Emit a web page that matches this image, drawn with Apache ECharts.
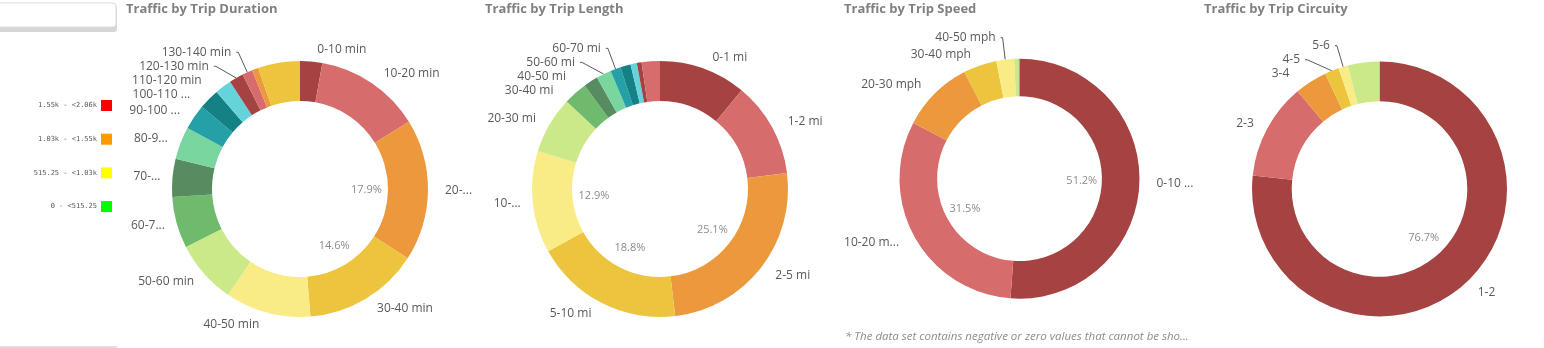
<!DOCTYPE html>
<html><head><meta charset="utf-8">
<script src="https://cdn.jsdelivr.net/npm/echarts@6/dist/echarts.min.js"></script>
<style>html,body{margin:0;padding:0;background:#fff}#c{width:1544px;height:348px}</style>
</head><body><div id="c"></div>
<script>
// ---------- DATA ----------
const palette = ['#a54343','#d76c6c','#ec983d','#ecc43d','#f9ec86','#cbe989','#70ba6e','#578b60','#79d69f','#26a0a7','#138185','#65d3da'];

const durationCategories = ['0-10 min','10-20 min','20-30 min','30-40 min','40-50 min','50-60 min','60-70 min','70-80 min','80-90 min','90-100 min','100-110 min','110-120 min','120-130 min','130-140 min','140-150 min','150+ min'];
const durationValues = [2.8,13.4,17.9,14.6,10.8,8.0,6.5,4.8,4.1,3.2,2.6,2.1,1.8,1.3,0.8,5.3];
const durationLabels = ['0-10 min','10-20 min','20-...','30-40 min','40-50 min','50-60 min','60-7...','70-...','80-9...','90-100 ...','100-110 ...','110-120 min','120-130 min','130-140 min','',''];

const lengthCategories = ['0-1 mi','1-2 mi','2-5 mi','5-10 mi','10-20 mi','20-30 mi','30-40 mi','40-50 mi','50-60 mi','60-70 mi','70-80 mi','80-90 mi','90-100 mi','100+ mi'];
const lengthValues = [11.0,12.0,25.1,18.8,12.9,7.2,3.0,1.8,1.9,1.3,1.3,0.8,0.6,2.3];
const lengthLabels = ['0-1 mi','1-2 mi','2-5 mi','5-10 mi','10-...','20-30 mi','30-40 mi','40-50 mi','50-60 mi','60-70 mi','','','',''];

const speedCategories = ['0-10 mph','10-20 mph','20-30 mph','30-40 mph','40-50 mph','50-60 mph','60+ mph'];
const speedValues = [51.2,31.5,9.7,4.5,2.4,0.6,0.1];
const speedLabels = ['0-10 ...','10-20 m...','20-30 mph','30-40 mph','40-50 mph','',''];

const circuityCategories = ['1-2','2-3','3-4','4-5','5-6','6+'];
const circuityValues = [76.7,12.2,4.1,1.8,1.2,4.0];
const circuityLabels = ['1-2','2-3','3-4','4-5','5-6',''];

const titles = ['Traffic by Trip Duration','Traffic by Trip Length','Traffic by Trip Speed','Traffic by Trip Circuity'];
const legendRanges = ['1.55k - <2.06k','1.03k - <1.55k','515.25 - <1.03k','0 - <515.25'];
const legendColors = ['#ff0000','#ff9900','#ffff00','#00ff00'];
const footnote = '* The data set contains negative or zero values that cannot be sho...';

// ---------- LAYOUT ----------
const charts = [
  {categories: durationCategories, values: durationValues, labels: durationLabels, center:[300,189], outer:128, inner:88, pctMin:14, leaders:['120-130 min','130-140 min'], titleX:126},
  {categories: lengthCategories, values: lengthValues, labels: lengthLabels, center:[660,189], outer:128, inner:88, pctMin:12.5, leaders:['50-60 mi','60-70 mi'], titleX:485},
  {categories: speedCategories, values: speedValues, labels: speedLabels, center:[1019.5,178.7], outer:120, inner:82.4, pctMin:20, leaders:['40-50 mph'], titleX:844},
  {categories: circuityCategories, values: circuityValues, labels: circuityLabels, center:[1379.5,189], outer:127.5, inner:87.8, pctMin:40, leaders:['4-5','5-6'], titleX:1204}
];
const FONT = 'Open Sans';

function buildSeries(cfg) {
  const data = cfg.categories.map((name, i) => {
    const txt = cfg.labels[i];
    const lead = txt !== '' && cfg.leaders.indexOf(name) >= 0;
    return {
      name: name, value: cfg.values[i],
      itemStyle: {color: palette[i % palette.length]},
      label: {show: txt !== '', formatter: txt},
      labelLine: lead ? {show: true, length: 22, length2: 2} : {show: false}
    };
  });
  const main = {
    type: 'pie', center: cfg.center, radius: [cfg.inner, cfg.outer],
    startAngle: 90, clockwise: true, avoidLabelOverlap: true, animation: false, silent: true,
    label: {position: 'outside', color: '#595959', fontSize: 12, fontFamily: FONT},
    labelLine: {length: 12, length2: 0, smooth: false, lineStyle: {color: '#595959', width: 1}},
    emphasis: {disabled: true},
    data: data
  };
  const pct = {
    type: 'pie', center: cfg.center, radius: [cfg.inner * 0.44, cfg.inner],
    startAngle: 90, clockwise: true, animation: false, silent: true,
    itemStyle: {color: 'rgba(0,0,0,0)'},
    label: {position: 'inside', color: '#8c8c8c', fontSize: 11, fontFamily: FONT,
      formatter: p => (p.percent >= cfg.pctMin ? p.percent.toFixed(1) + '%' : '')},
    labelLine: {show: false},
    emphasis: {disabled: true},
    data: cfg.categories.map((n, i) => ({name: n, value: cfg.values[i]}))
  };
  return [main, pct];
}

const series = [];
charts.forEach(c => buildSeries(c).forEach(s => series.push(s)));

const graphics = [
  {type: 'rect', shape: {x: -3, y: 5, width: 120, height: 27, r: 3}, style: {fill: '#d6d6d6'}},
  {type: 'rect', shape: {x: -3, y: 3, width: 119, height: 24, r: 3}, style: {fill: '#fff', stroke: '#dcdcdc', lineWidth: 1}},
  {type: 'rect', shape: {x: 0, y: 346, width: 117, height: 2}, style: {fill: '#dedede'}},
  {type: 'text', style: {x: 845, y: 337, text: footnote, fill: '#8c8c8c', font: 'italic 11.5px "Open Sans"', textVerticalAlign: 'middle'}}
];
legendRanges.forEach((t, i) => {
  const y = 100 + i * 33.7;
  graphics.push({type: 'rect', shape: {x: 101, y: y, width: 11, height: 11}, style: {fill: legendColors[i]}});
  graphics.push({type: 'text', style: {x: 97, y: y + 5.5, text: t, fill: '#595959', font: '7px "DejaVu Sans Mono"', textAlign: 'right', textVerticalAlign: 'middle'}});
});

const option = {
  animation: false,
  title: charts.map((c, i) => ({text: titles[i], left: c.titleX, top: 3, padding: 0,
    textStyle: {fontSize: 13, fontWeight: 'bold', color: '#808080', fontFamily: FONT}})),
  graphic: graphics,
  series: series
};
const chart = echarts.init(document.getElementById('c'), null, {renderer: 'canvas'});
chart.setOption(option);
</script></body></html>
